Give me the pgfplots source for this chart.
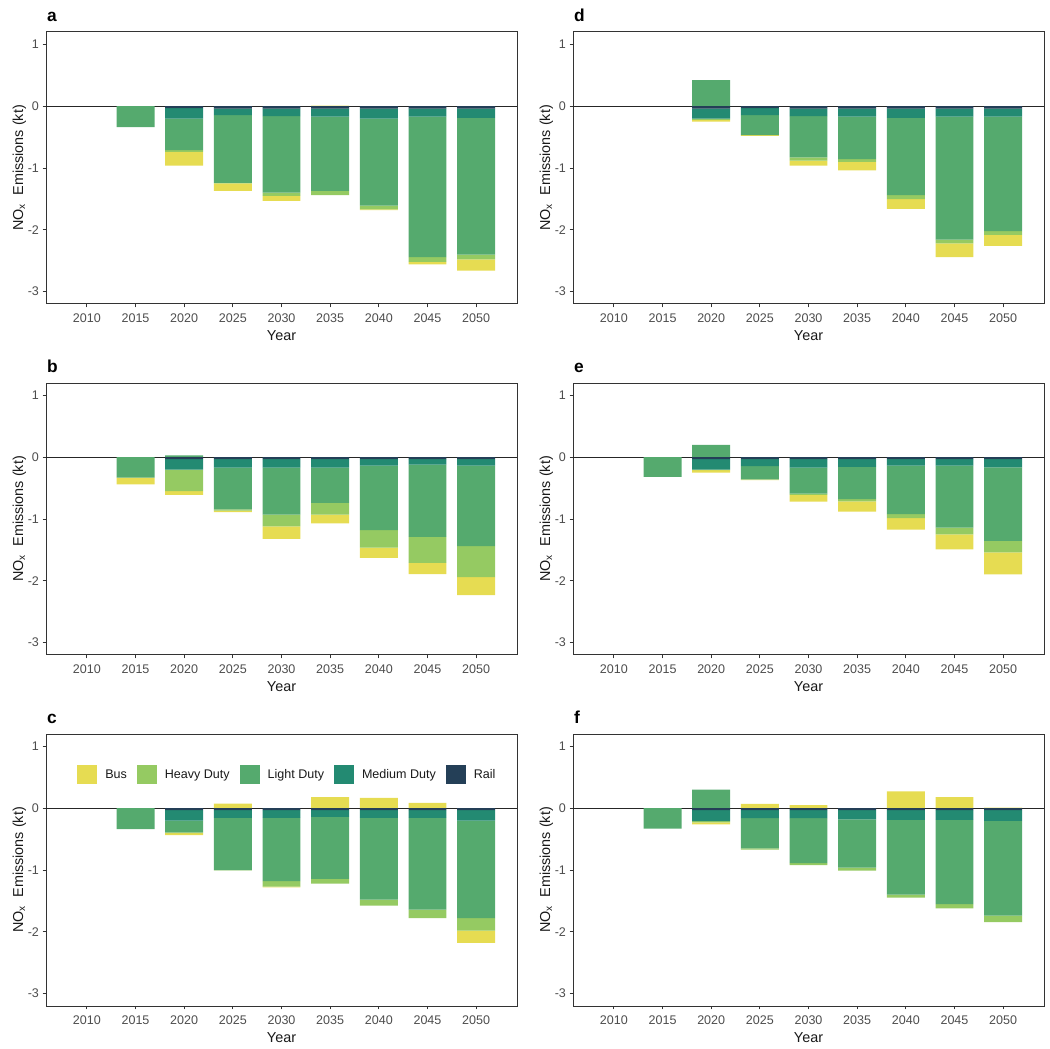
\documentclass[border=0pt]{standalone}
\usepackage{fontspec}
\setmainfont{Liberation Sans}
\usepackage{pgfplots}
\usepackage{pgfplotstable}
\pgfplotsset{compat=1.18}
\definecolor{cbus}{HTML}{E6DC52}
\definecolor{cheavy}{HTML}{95CA62}
\definecolor{clight}{HTML}{55AA6E}
\definecolor{cmed}{HTML}{238A72}
\definecolor{crail}{HTML}{243F57}
\definecolor{tickgray}{HTML}{4D4D4D}
\definecolor{framegray}{HTML}{333333}

% columns: year rail med light heavy bus (kt)
\pgfplotstableread{
year rail med light heavy bus
2010 0 0 0 0 0
2015 0 0 -0.34 0 0
2020 -0.03 -0.17 -0.51 -0.03 -0.22
2025 -0.04 -0.105 -1.095 -0.01 -0.12
2030 -0.04 -0.12 -1.24 -0.05 -0.08
2035 -0.04 -0.13 -1.20 -0.07 0.01
2040 -0.04 -0.16 -1.41 -0.06 -0.01
2045 -0.04 -0.13 -2.27 -0.08 -0.04
2050 -0.04 -0.15 -2.21 -0.08 -0.18
}\tA
\pgfplotstableread{
year rail med light heavy bus
2010 0 0 0 0 0
2015 0 0 -0.33 0 -0.11
2020 -0.03 -0.17 0.03 -0.35 -0.06
2025 -0.03 -0.14 -0.675 -0.02 -0.025
2030 -0.03 -0.14 -0.76 -0.19 -0.20
2035 -0.03 -0.14 -0.57 -0.19 -0.14
2040 -0.03 -0.105 -1.045 -0.285 -0.165
2045 -0.03 -0.09 -1.17 -0.42 -0.18
2050 -0.03 -0.105 -1.305 -0.50 -0.29
}\tB
\pgfplotstableread{
year rail med light heavy bus
2010 0 0 0 0 0
2015 0 0 -0.34 0 0
2020 -0.03 -0.17 -0.19 -0.015 -0.03
2025 -0.03 -0.125 -0.845 -0.005 0.075
2030 -0.03 -0.125 -1.025 -0.09 -0.01
2035 -0.03 -0.11 -1.005 -0.075 0.18
2040 -0.03 -0.125 -1.325 -0.095 0.165
2045 -0.03 -0.125 -1.485 -0.14 0.085
2050 -0.03 -0.17 -1.58 -0.20 -0.20
}\tC
\pgfplotstableread{
year rail med light heavy bus
2010 0 0 0 0 0
2015 0 0 0 0 0
2020 -0.04 -0.16 0.42 -0.02 -0.03
2025 -0.03 -0.115 -0.325 0 -0.01
2030 -0.04 -0.12 -0.67 -0.05 -0.08
2035 -0.04 -0.13 -0.685 -0.045 -0.14
2040 -0.04 -0.15 -1.25 -0.065 -0.155
2045 -0.04 -0.13 -1.99 -0.06 -0.22
2050 -0.04 -0.13 -1.85 -0.06 -0.18
}\tD
\pgfplotstableread{
year rail med light heavy bus
2010 0 0 0 0 0
2015 0 0 -0.32 0 0
2020 -0.03 -0.17 0.20 -0.01 -0.04
2025 -0.03 -0.115 -0.215 -0.005 -0.005
2030 -0.03 -0.14 -0.42 -0.02 -0.11
2035 -0.03 -0.125 -0.525 -0.035 -0.165
2040 -0.03 -0.105 -0.785 -0.065 -0.185
2045 -0.03 -0.105 -1.005 -0.11 -0.24
2050 -0.03 -0.135 -1.19 -0.185 -0.355
}\tE
\pgfplotstableread{
year rail med light heavy bus
2010 0 0 0 0 0
2015 0 0 -0.33 0 0
2020 -0.03 -0.18 0.30 -0.02 -0.03
2025 -0.03 -0.13 -0.49 -0.02 0.07
2030 -0.03 -0.13 -0.73 -0.03 0.05
2035 -0.03 -0.15 -0.78 -0.05 0
2040 -0.03 -0.16 -1.21 -0.045 0.27
2045 -0.03 -0.16 -1.36 -0.07 0.18
2050 -0.03 -0.175 -1.535 -0.105 0.01
}\tF

\pgfplotsset{panel/.style={
  scale only axis, width=353.25pt, height=204pt,
  anchor=north west,
  xmin=2005.8, xmax=2054.2, ymin=-3.2, ymax=1.2,
  xtick={2010,2015,...,2050}, ytick={-3,-2,-1,0,1},
  ybar stacked, bar width=3.9,
  tick align=outside, major tick length=2.5pt,
  xtick pos=bottom, ytick pos=left,
  tick style={framegray, line width=0.6pt},
  axis line style={framegray, line width=0.75pt},
  /pgf/number format/assume math mode=true,
  /pgf/number format/1000 sep={},
  tick label style={font=\fontsize{9.4}{11}\selectfont, text=tickgray},
  xticklabel style={anchor=north, inner sep=0pt, yshift=-4.5pt},
  yticklabel style={anchor=east, inner sep=0pt, xshift=-2.6pt},
  xlabel={Year}, ylabel={NO\textsubscript{x}\ \ Emissions (kt)},
  label style={font=\fontsize{10.8}{12}\selectfont, text=black!90},
  xlabel style={at={(axis description cs:0.5,-0.1324)}, anchor=base},
  ylabel style={at={(axis description cs:-0.0488,0.5)}, anchor=base},
  clip=false,
},
sq legend/.style={legend image code/.code={\fill[##1] (0pt,-7.1pt) rectangle (15pt,7.1pt);}}
}

% positive and negative values are stacked separately (as in ggplot)
\newcommand{\stackbars}[1]{%
  \addplot[fill=crail, draw=none] table[x=year, y=rail] {#1};
  \addplot[fill=cmed, draw=none] table[x=year, y=med] {#1};
  \addplot[fill=clight, draw=none] table[x=year, y=light] {#1};
  \addplot[fill=cheavy, draw=none] table[x=year, y=heavy] {#1};
  \addplot[fill=cbus, draw=none] table[x=year, y=bus] {#1};
  \draw[black!85, line width=0.75pt] (axis cs:2005.8,0) -- (axis cs:2054.2,0);
}
\newcommand{\paneltag}[1]{\node[anchor=base west, font=\bfseries\fontsize{13}{13}\selectfont, inner sep=0pt] at (axis description cs:0.002,1.0377) {#1};}

\begin{document}
\begin{tikzpicture}
\path[use as bounding box] (0pt,0pt) rectangle (787.5pt,-786.75pt);

\begin{axis}[panel, at={(34.5pt,-24pt)}]
\stackbars{\tA}
\paneltag{a}
\end{axis}

\begin{axis}[panel, at={(34.5pt,-287.25pt)}]
\stackbars{\tB}
\paneltag{b}
\end{axis}

\begin{axis}[panel, at={(34.5pt,-550.5pt)},
  legend style={at={(axis cs:2030.5,0.54)}, anchor=center, draw=none, fill=none,
    legend columns=5, font=\fontsize{9.4}{11}\selectfont, text=black!90,
    nodes={inner sep=0pt},
    /tikz/every odd column/.append style={column sep=6pt},
    /tikz/every even column/.append style={column sep=7.5pt}}]
\addlegendimage{fill=cbus, draw=none, sq legend}
\addlegendimage{fill=cheavy, draw=none, sq legend}
\addlegendimage{fill=clight, draw=none, sq legend}
\addlegendimage{fill=cmed, draw=none, sq legend}
\addlegendimage{fill=crail, draw=none, sq legend}
\legend{Bus, Heavy Duty, Light Duty, Medium Duty, Rail}
\stackbars{\tC}
\paneltag{c}
\end{axis}

\begin{axis}[panel, at={(429.75pt,-24pt)}]
\stackbars{\tD}
\paneltag{d}
\end{axis}

\begin{axis}[panel, at={(429.75pt,-287.25pt)}]
\stackbars{\tE}
\paneltag{e}
\end{axis}

\begin{axis}[panel, at={(429.75pt,-550.5pt)}]
\stackbars{\tF}
\paneltag{f}
\end{axis}
\end{tikzpicture}
\end{document}
